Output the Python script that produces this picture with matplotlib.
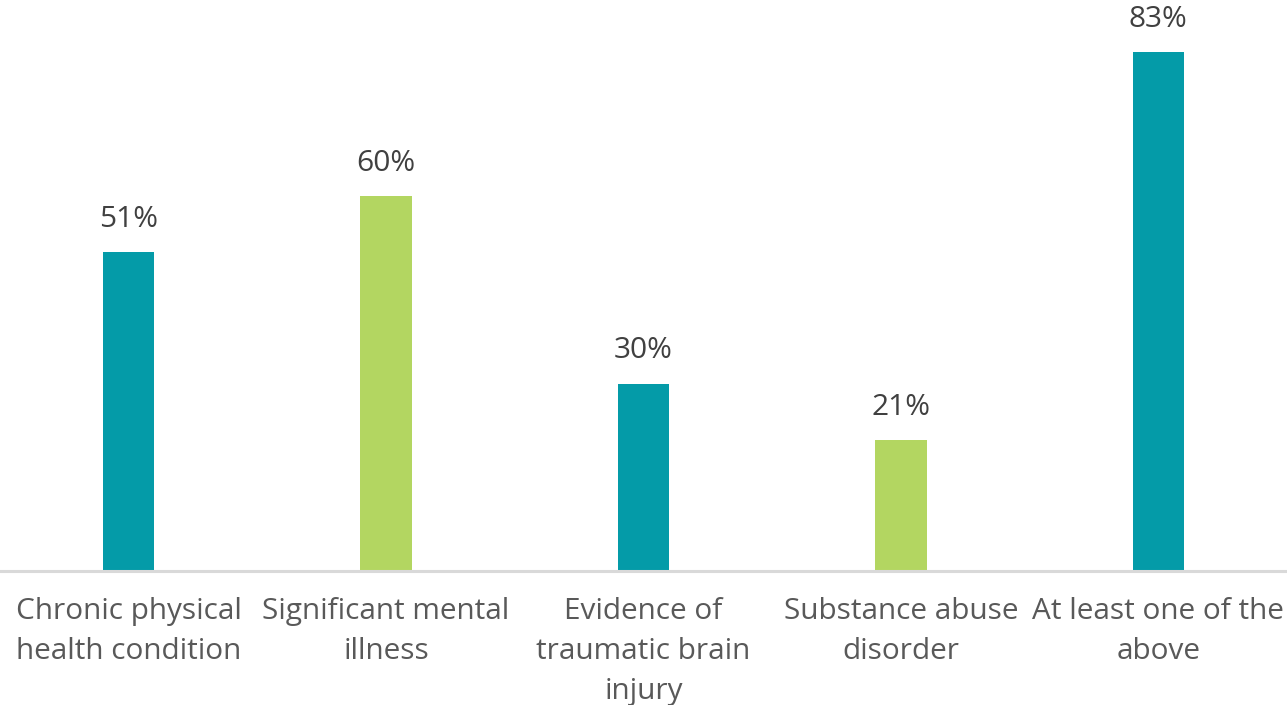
import matplotlib.pyplot as plt
import numpy as np

categories = ['Chronic physical\nhealth condition', 'Significant mental\nillness',
              'Evidence of\ntraumatic brain\ninjury', 'Substance abuse\ndisorder',
              'At least one of the\nabove']
values = [51, 60, 30, 21, 83]
colors = ['#049BA8', '#B3D661', '#049BA8', '#B3D661', '#049BA8']

plt.rcParams['font.family'] = ['Open Sans', 'DejaVu Sans']

fig = plt.figure(figsize=(12.87, 7.05), dpi=100)
ax = fig.add_axes([0, 0.19, 1, 0.81])

x = np.arange(len(categories))
bars = ax.bar(x, values, width=0.2, color=colors, zorder=2)

for xi, v in zip(x, values):
    ax.annotate('{}%'.format(v), (xi, v), xytext=(0, 13), textcoords='offset points',
                ha='center', va='bottom', fontsize=21.5, color='#404040')

ax.set_xlim(-0.5, 4.5)
ax.set_ylim(0, 571 / 6.25)
ax.set_xticks(x)
ax.set_xticklabels(categories, fontsize=21.4, color='#595959', linespacing=1.48)
ax.tick_params(axis='x', length=0, pad=19)
ax.set_yticks([])

for side in ['top', 'right', 'left']:
    ax.spines[side].set_visible(False)
ax.spines['bottom'].set_color('#D9D9D9')
ax.spines['bottom'].set_linewidth(2.2)

fig.savefig('out.png', dpi=100)
